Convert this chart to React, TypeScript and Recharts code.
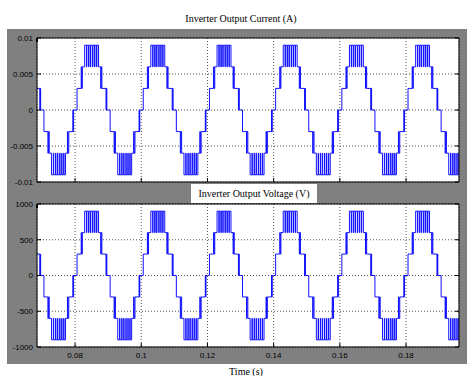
import { LineChart, Line, XAxis, YAxis, CartesianGrid } from 'recharts';

// rising zero crossings of the fundamental (s)
const cycleStarts = [0.06, 0.08, 0.1, 0.12, 0.14, 0.16, 0.18];

// switching instants inside one cycle, ms after the rising zero crossing
const switchTimesMs = [
  0, 0.6, 1.85, 2.0, 2.2, 2.9, 3.45, 3.55, 4.05, 4.2, 4.65, 4.75, 5.3, 5.4,
  5.9, 6.0, 6.5, 6.6, 7.1, 7.75, 7.9, 8.1, 9.35, 9.5, 9.6,
  10.6, 11.8, 11.95, 12.2, 12.9, 13.45, 13.55, 14.1, 14.2, 14.7, 14.8,
  15.35, 15.45, 15.95, 16.05, 16.55, 16.65, 17.1, 17.7, 17.85, 18.1,
  19.35, 19.45, 19.55,
];
// inverter level after each switching instant (-3..3)
const switchLevels = [
  0, 1, 2, 1, 2, 3, 2, 3, 2, 3, 2, 3, 2, 3,
  2, 3, 2, 3, 2, 1, 2, 1, 0, 1, 0,
  -1, -2, -1, -2, -3, -2, -3, -2, -3, -2, -3,
  -2, -3, -2, -3, -2, -3, -2, -1, -2, -1,
  0, -1, 0,
];

const currentLevels = [0, 0.003, 0.006, 0.009];
const voltageLevels = [0, 300, 600, 900];

const timeTicks = [0.08, 0.1, 0.12, 0.14, 0.16, 0.18];
const currentTicks = [-0.01, -0.005, 0, 0.005, 0.01];
const voltageTicks = [-1000, -500, 0, 500, 1000];

const timeDomain = [0.0685, 0.196];

function buildWave(levels: number[]) {
  const rows: { t: number; v: number }[] = [];
  cycleStarts.forEach((c) => {
    switchTimesMs.forEach((ms, i) => {
      const k = switchLevels[i];
      rows.push({ t: c + ms / 1000, v: Math.sign(k) * levels[Math.abs(k)] });
    });
  });
  return rows;
}

const currentData = buildWave(currentLevels);
const voltageData = buildWave(voltageLevels);

const tickFont = { fontSize: 8, fill: '#000', fontFamily: 'Liberation Sans, Arial, sans-serif' };
const serif = 'Liberation Serif, Times New Roman, serif';
const blank = () => '';

function Panel({ data, yTicks, yDomain, top, bottom, showTimeLabels }: any) {
  return (
    <div style={{ position: 'absolute', left: 0, top: 0 }}>
      <LineChart
        width={467}
        height={376}
        data={data}
        margin={{ top: top - 9, left: 7, right: 0, bottom: 376 - bottom - (showTimeLabels ? 20 : 10) }}
      >
        <CartesianGrid stroke="#555" strokeDasharray="1 2" fill="#fff" fillOpacity={1} />
        <XAxis
          dataKey="t"
          type="number"
          domain={timeDomain}
          ticks={timeTicks}
          allowDataOverflow
          interval={0}
          height={showTimeLabels ? 20 : 10}
          tickSize={-4}
          tickMargin={showTimeLabels ? 9 : 4}
          tick={tickFont}
          tickFormatter={showTimeLabels ? undefined : blank}
          axisLine={{ stroke: '#000' }}
          tickLine={{ stroke: '#000' }}
        />
        <XAxis
          xAxisId="t"
          orientation="top"
          type="number"
          domain={timeDomain}
          ticks={timeTicks}
          allowDataOverflow
          interval={0}
          height={9}
          tickSize={-4}
          tickFormatter={blank}
          axisLine={{ stroke: '#000' }}
          tickLine={{ stroke: '#000' }}
        />
        <YAxis
          type="number"
          domain={yDomain}
          ticks={yTicks}
          allowDataOverflow
          interval={0}
          width={30}
          tickSize={-4}
          tickMargin={8}
          tick={tickFont}
          axisLine={{ stroke: '#000' }}
          tickLine={{ stroke: '#000' }}
        />
        <YAxis
          yAxisId="r"
          orientation="right"
          type="number"
          domain={yDomain}
          ticks={yTicks}
          allowDataOverflow
          interval={0}
          width={8}
          tickSize={-4}
          tickFormatter={blank}
          axisLine={{ stroke: '#000' }}
          tickLine={{ stroke: '#000' }}
        />
        <Line
          type="stepAfter"
          dataKey="v"
          stroke="#1010ff"
          strokeWidth={1}
          dot={false}
          isAnimationActive={false}
        />
      </LineChart>
    </div>
  );
}

export default function App() {
  return (
    <div style={{ position: 'absolute', left: 0, top: 0, width: 467, height: 376, background: '#fff', overflow: 'hidden' }}>
      <div style={{ position: 'absolute', left: 7, top: 29, width: 460, height: 335, background: '#808080' }} />
      <div
        style={{
          position: 'absolute', left: 141, top: 13, width: 200, textAlign: 'center',
          fontFamily: serif, fontSize: 10, lineHeight: '12px', color: '#000',
        }}
      >
        Inverter Output Current (A)
      </div>
      <Panel data={currentData} yTicks={currentTicks} yDomain={[-0.01, 0.01]} top={38} bottom={182} showTimeLabels={false} />
      <Panel data={voltageData} yTicks={voltageTicks} yDomain={[-1000, 1000]} top={204} bottom={347} showTimeLabels />
      <div
        style={{
          position: 'absolute', left: 191, top: 184, width: 126, height: 19, background: '#fff', textAlign: 'center',
          fontFamily: serif, fontSize: 10, lineHeight: '19px', color: '#000',
        }}
      >
        Inverter Output Voltage (V)
      </div>
      <div
        style={{
          position: 'absolute', left: 196, top: 366, width: 100, textAlign: 'center',
          fontFamily: serif, fontSize: 10, lineHeight: '12px', color: '#000',
        }}
      >
        Time (s)
      </div>
    </div>
  );
}
